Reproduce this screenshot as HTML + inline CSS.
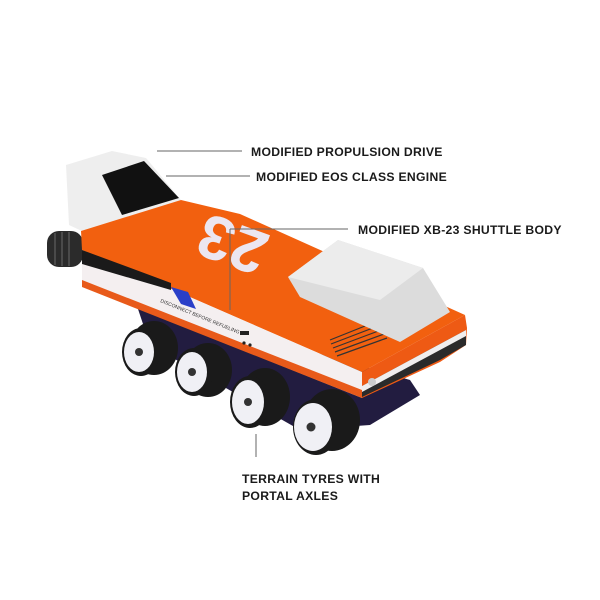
<!DOCTYPE html>
<html><head><style>
html,body{margin:0;padding:0;background:#fff;}
svg{display:block;}
text.l{font-family:"Liberation Sans",sans-serif;font-weight:bold;font-size:12.2px;fill:#1a1a1a;letter-spacing:0.3px;}
</style></head><body>
<svg width="600" height="600" viewBox="0 0 600 600" xmlns="http://www.w3.org/2000/svg">
<rect width="600" height="600" fill="#fff"/>
<polygon points="135,300 410,380 420,395 370,425 300,430 150,345" fill="#221c40"/>
<rect x="47" y="231" width="36" height="36" rx="12" fill="#2b2b2b"/>
<g stroke="#555" stroke-width="1.5"><line x1="55" y1="233" x2="55" y2="265"/><line x1="62" y1="232" x2="62" y2="266"/><line x1="69" y1="232" x2="69" y2="266"/></g>
<polygon points="66,165 112,151 146,158 181,200 130,222 84,232 69,225" fill="#eeeeee"/>
<polygon points="102,175 144,161 179,198 122,215" fill="#111"/>
<polygon points="81,231 181,200 240,214 465,315 362,372 82,250" fill="#f2600f"/>
<polygon points="82,250 362,372 362,398 82,286" fill="#f4eff0"/>
<polygon points="82,250 171,283 171,290 82,264" fill="#1a1a1a"/>
<polygon points="82,280 362,390 362,398 82,287" fill="#e85a1a"/>
<polygon points="171,287 188,292 196,309 181,304" fill="#2a3fc8"/>
<text x="0" y="0" font-family="Liberation Sans,sans-serif" font-size="5" fill="#333" transform="translate(160,302) rotate(22)">DISCONNECT BEFORE REFUELING</text>
<rect x="240" y="331" width="9" height="4" fill="#222"/>
<circle cx="244" cy="343" r="1.6" fill="#222"/><circle cx="250" cy="345" r="1.6" fill="#222"/>
<polygon points="362,372 465,315 467,328 466,345 440,362 362,398" fill="#ee5a14"/>
<polygon points="362,386 466,330 466,345 440,360 362,397" fill="#2b2b2b"/>
<polygon points="362,386 466,330 466,336 362,392" fill="#f0eeee"/>
<circle cx="372" cy="382" r="4" fill="#ccc"/>
<g stroke="#333" stroke-width="1.2">
<line x1="330" y1="340" x2="375" y2="322"/><line x1="331" y1="344" x2="378" y2="326"/><line x1="333" y1="348" x2="381" y2="330"/><line x1="335" y1="352" x2="384" y2="334"/><line x1="337" y1="356" x2="387" y2="338"/></g>
<polygon points="288,277 338,240 423,268 450,312 400,342 300,297" fill="#dcdcdc"/>
<polygon points="288,277 338,240 423,268 380,300" fill="#ececec"/>
<text x="0" y="0" font-family="Liberation Sans,sans-serif" font-weight="bold" font-size="62" fill="#ece6f0" transform="translate(272,236) rotate(200)">23</text>
<g>
<ellipse cx="154" cy="348" rx="24" ry="27" fill="#1a1a1a"/>
<ellipse cx="141" cy="352" rx="19" ry="24" fill="#1a1a1a"/>
<ellipse cx="139" cy="352" rx="15" ry="20" fill="#f0f0f5"/>
<circle cx="139" cy="352" r="4" fill="#333"/>
<ellipse cx="208" cy="370" rx="24" ry="27" fill="#1a1a1a"/>
<ellipse cx="194" cy="372" rx="19" ry="24" fill="#1a1a1a"/>
<ellipse cx="192" cy="372" rx="15" ry="20" fill="#f0f0f5"/>
<circle cx="192" cy="372" r="4" fill="#333"/>
<ellipse cx="265" cy="397" rx="25" ry="29" fill="#1a1a1a"/>
<ellipse cx="250" cy="402" rx="20" ry="26" fill="#1a1a1a"/>
<ellipse cx="248" cy="402" rx="16" ry="22" fill="#f0f0f5"/>
<circle cx="248" cy="402" r="4" fill="#333"/>
<ellipse cx="332" cy="420" rx="28" ry="31" fill="#1a1a1a"/>
<ellipse cx="316" cy="427" rx="23" ry="28" fill="#1a1a1a"/>
<ellipse cx="313" cy="427" rx="19" ry="24" fill="#f0f0f5"/>
<circle cx="311" cy="427" r="4.5" fill="#333"/>
</g>
<g stroke="#666" stroke-width="1">
<line x1="157" y1="151" x2="242" y2="151"/>
<line x1="166" y1="176" x2="250" y2="176"/>
<line x1="230" y1="229" x2="348" y2="229"/>
<line x1="230" y1="229" x2="230" y2="310"/>
<line x1="256" y1="434" x2="256" y2="457"/>
</g>
<text class="l" x="251" y="156">MODIFIED PROPULSION DRIVE</text>
<text class="l" x="256" y="181">MODIFIED EOS CLASS ENGINE</text>
<text class="l" x="358" y="234">MODIFIED XB-23 SHUTTLE BODY</text>
<text class="l" x="242" y="483">TERRAIN TYRES WITH</text>
<text class="l" x="242" y="500">PORTAL AXLES</text>
</svg>
</body></html>
